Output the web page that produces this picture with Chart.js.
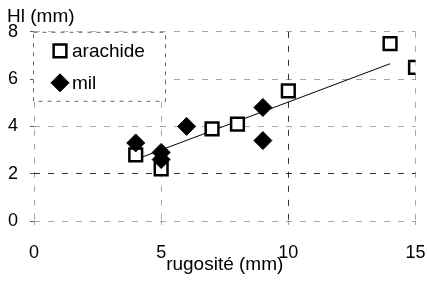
<!DOCTYPE html>
<html>
<head>
<meta charset="utf-8">
<script src="https://cdn.jsdelivr.net/npm/chart.js@4.4.0/dist/chart.umd.min.js"></script>
<style>
  html, body { margin: 0; padding: 0; background: #fff; }
  #wrap { width: 427px; height: 281px; }
</style>
</head>
<body>
<div id="wrap"><canvas id="myChart" width="427" height="281"></canvas></div>
<script>
// values
var arachideX = [4, 5, 7, 8, 10, 14, 15];
var arachideY = [2.8, 2.2, 3.9, 4.1, 5.5, 7.5, 6.5];
var milX = [4, 5, 5, 6, 9, 9];
var milY = [3.3, 2.9, 2.6, 4.0, 4.8, 3.4];
var trendX = [4, 14];
var trendY = [2.6, 6.65];
var xTicks = [0, 5, 10, 15];
var yTicks = [0, 2, 4, 6, 8];
var seriesNames = ['arachide', 'mil'];
var xTitle = 'rugosité (mm)';
var yTitle = 'Hl (mm)';

var FONT = 'Liberation Sans, Arial, sans-serif';

function toPoints(xs, ys) {
    return xs.map(function (x, i) { return { x: x, y: ys[i] }; });
}

// the scan shows the x=10 and y=2 grid lines much darker than the others
function gridColor(strongValue) {
    return function (c) {
        if (c.tick && c.tick.value === strongValue) return 'rgba(0,0,0,0.8)';
        return 'rgba(0,0,0,0.35)';
    };
}

/* legend drawn inside the plot, white box with dashed frame */
var legendBox = {
    id: 'legendBox',
    afterDatasetsDraw: function (chart) {
        var ctx = chart.ctx, a = chart.chartArea;
        var x0 = a.left - 1, y0 = a.top, w = 132, h = 69;
        ctx.save();
        ctx.fillStyle = '#fff';
        ctx.fillRect(x0, y0, w, h);
        ctx.setLineDash([4, 5]);
        ctx.strokeStyle = 'rgba(0,0,0,0.6)';
        ctx.lineWidth = 1;
        ctx.strokeRect(x0 + 0.5, y0 + 0.5, w, h);
        ctx.setLineDash([]);
        ctx.font = '19px ' + FONT;
        ctx.textBaseline = 'alphabetic';
        var rows = [19, 51];
        for (var i = 0; i < 2; i++) {
            var ds = chart.data.datasets[i];
            ctx.fillStyle = ds.pointBackgroundColor;
            ctx.strokeStyle = ds.pointBorderColor;
            ctx.lineWidth = ds.pointBorderWidth;
            Chart.helpers.drawPoint(ctx, {
                pointStyle: ds.pointStyle,
                radius: ds.pointRadius,
                borderWidth: ds.pointBorderWidth
            }, a.left + 26, a.top + rows[i]);
            ctx.fillStyle = '#000';
            ctx.fillText(seriesNames[i], a.left + 38, a.top + rows[i] + 6);
        }
        ctx.restore();
    }
};

var ctx = document.getElementById('myChart').getContext('2d');
var chart = new Chart(ctx, {
    type: 'scatter',
    data: {
        datasets: [
            {
                label: seriesNames[0],
                data: toPoints(arachideX, arachideY),
                pointStyle: 'rect',
                pointRadius: 9,
                pointBackgroundColor: '#fff',
                pointBorderColor: '#000',
                pointBorderWidth: 2.5,
                order: 1
            },
            {
                label: seriesNames[1],
                data: toPoints(milX, milY),
                pointStyle: 'rectRot',
                pointRadius: 9,
                pointBackgroundColor: '#000',
                pointBorderColor: '#000',
                pointBorderWidth: 1,
                order: 0
            },
            {
                label: 'tendance',
                data: toPoints(trendX, trendY),
                showLine: true,
                borderColor: '#000',
                borderWidth: 1,
                pointRadius: 0,
                order: 2
            }
        ]
    },
    options: {
        responsive: false,
        animation: false,
        devicePixelRatio: 1,
        layout: { padding: { left: 7, right: 10, top: 0, bottom: 0 } },
        plugins: {
            legend: { display: false },
            tooltip: { enabled: false },
            title: {
                display: true,
                text: yTitle,
                align: 'start',
                color: '#000',
                font: { family: FONT, size: 19, weight: 'normal' },
                padding: { top: 5, bottom: 4 }
            }
        },
        scales: {
            x: {
                type: 'linear',
                min: 0,
                max: 15,
                afterBuildTicks: function (s) {
                    s.ticks = xTicks.map(function (v) { return { value: v }; });
                },
                afterFit: function (s) {
                    s.height = 60;
                    s.paddingLeft = 0;
                    s.paddingRight = 0;
                },
                ticks: {
                    color: '#000',
                    font: { family: FONT, size: 18 },
                    padding: 17
                },
                grid: {
                    color: gridColor(10),
                    tickColor: 'rgba(0,0,0,0.35)',
                    lineWidth: 1,
                    tickLength: 4
                },
                border: { display: false, dash: [6, 8] },
                title: {
                    display: true,
                    text: xTitle,
                    color: '#000',
                    font: { family: FONT, size: 19 },
                    padding: { top: 0, bottom: 5 }
                }
            },
            y: {
                min: 0,
                max: 8,
                afterBuildTicks: function (s) {
                    s.ticks = yTicks.map(function (v) { return { value: v }; });
                },
                afterFit: function (s) { s.width = 27; },
                ticks: {
                    color: '#000',
                    font: { family: FONT, size: 18 },
                    padding: 12
                },
                grid: {
                    color: gridColor(2),
                    tickColor: 'rgba(0,0,0,0.6)',
                    lineWidth: 1,
                    tickLength: 4
                },
                border: { display: false, dash: [6, 8] }
            }
        }
    },
    plugins: [legendBox]
});
</script>
</body>
</html>
